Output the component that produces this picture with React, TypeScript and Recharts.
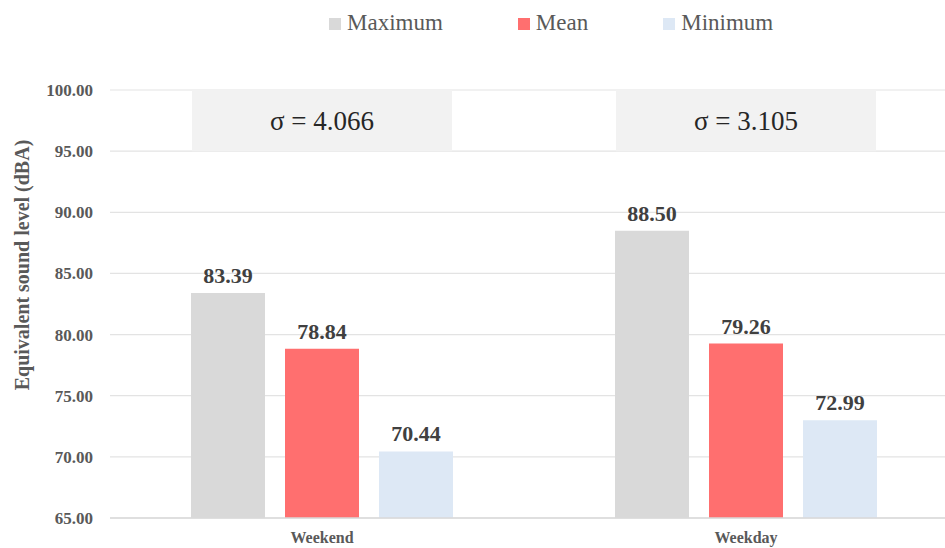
import React from "react";
import { BarChart, Bar, XAxis, YAxis, CartesianGrid, LabelList } from "recharts";

const categories = ["Weekend", "Weekday"];
const maximum = [83.39, 88.5];
const mean = [78.84, 79.26];
const minimum = [70.44, 72.99];
const sigma = [4.066, 3.105];
const sigmaBand = [95, 100];
const yTicks = [65, 70, 75, 80, 85, 90, 95, 100];

const FONT = "'Liberation Serif', Tinos, 'Times New Roman', 'Nimbus Roman', 'DejaVu Serif', serif";

const series = [
  { key: "maximum", name: "Maximum", color: "#d9d9d9" },
  { key: "mean", name: "Mean", color: "#ff6f6f" },
  { key: "minimum", name: "Minimum", color: "#dde8f5" },
];

const data = categories.map((category, i) => ({
  category,
  maximum: maximum[i],
  mean: mean[i],
  minimum: minimum[i],
  sigma: sigma[i],
  band: sigmaBand,
}));

// rotated title beside the value axis
const AxisTitle = (props: any) => {
  const { viewBox } = props;
  const cx = viewBox.x - 28;
  const cy = viewBox.y + viewBox.height / 2 - 39;
  return (
    <text
      x={cx}
      y={cy}
      transform={`rotate(-90, ${cx}, ${cy})`}
      textAnchor="middle"
      dominantBaseline="central"
      fill="#595959"
      style={{ fontFamily: FONT }}
      fontWeight="bold"
      fontSize={20}
    >
      Equivalent sound level (dBA)
    </text>
  );
};

export default function App() {
  return (
    <div
      style={{
        position: "absolute",
        left: 0,
        top: 0,
        width: 945,
        height: 548,
        overflow: "hidden",
        background: "#fff",
        fontFamily: FONT,
      }}
    >
      {/* Legend */}
      <div
        style={{
          position: "absolute",
          left: 329,
          top: 11,
          display: "flex",
          gap: 75,
          fontSize: 23,
          lineHeight: "23px",
          color: "#595959",
          fontFamily: FONT,
        }}
      >
        {series.map((s) => (
          <div key={s.key} style={{ display: "flex", alignItems: "center" }}>
            <span
              style={{
                width: 12,
                height: 12,
                background: s.color,
                marginRight: 6,
                display: "inline-block",
                marginTop: 2,
              }}
            />
            <span>{s.name}</span>
          </div>
        ))}
      </div>

      <BarChart
        width={960}
        height={548}
        data={data}
        margin={{ top: 90, right: 2, bottom: 0, left: 50 }}
        barGap={20}
        style={{ position: "absolute", left: 0, top: 0, fontFamily: FONT }}
      >
        <CartesianGrid vertical={false} stroke="#e3e3e3" strokeWidth={1.2} />
        <XAxis
          dataKey="category"
          height={30}
          axisLine={{ stroke: "#d9d9d9", strokeWidth: 1.5 }}
          tickLine={false}
          tickMargin={8}
          tick={{ fill: "#595959", fontSize: 16, fontWeight: "bold", style: { fontFamily: FONT } }}
        />
        <XAxis xAxisId="box" dataKey="category" hide />
        <YAxis
          width={60}
          domain={[65, 100]}
          ticks={yTicks}
          interval={0}
          axisLine={false}
          tickLine={false}
          tickMargin={11}
          tickFormatter={(v: number) => v.toFixed(2)}
          tick={{ fill: "#595959", fontSize: 17, fontWeight: "bold", style: { fontFamily: FONT } }}
          label={<AxisTitle />}
        />
        {/* shaded band carrying the standard deviation of each group */}
        <Bar
          xAxisId="box"
          dataKey="band"
          barSize={260}
          fill="#f2f2f2"
          legendType="none"
          isAnimationActive={false}
        >
          <LabelList
            dataKey="sigma"
            position="center"
            formatter={(v: any) => `σ = ${Number(v).toFixed(3)}`}
            style={{ fill: "#262626", fontSize: 27, fontFamily: FONT }}
          />
        </Bar>
        {series.map((s) => (
          <Bar
            key={s.key}
            dataKey={s.key}
            name={s.name}
            fill={s.color}
            barSize={74}
            isAnimationActive={false}
          >
            <LabelList
              dataKey={s.key}
              position="top"
              offset={10}
              formatter={(v: any) => Number(v).toFixed(2)}
              style={{ fill: "#404040", fontSize: 22, fontWeight: "bold", fontFamily: FONT }}
            />
          </Bar>
        ))}
      </BarChart>
    </div>
  );
}
